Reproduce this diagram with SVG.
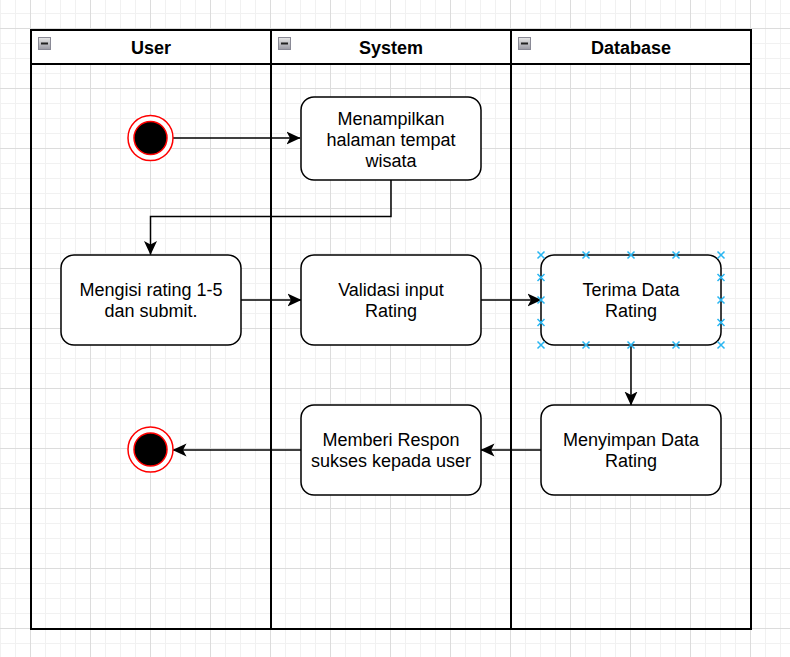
<svg xmlns="http://www.w3.org/2000/svg" width="790" height="657" viewBox="0 0 790 657">
<defs>
<pattern id="grid" x="30" y="28" width="60" height="60" patternUnits="userSpaceOnUse">
<path d="M15.5 0V60M30.5 0V60M45.5 0V60M0 15.5H60M0 30.5H60M0 45.5H60" stroke="#f1f1f1" stroke-width="1" fill="none"/>
<path d="M0.5 0V60M0 0.5H60" stroke="#dcdcdc" stroke-width="1" fill="none"/>
</pattern>
<linearGradient id="icon" x1="0" y1="0" x2="0" y2="1">
<stop offset="0" stop-color="#e8e8e8"/>
<stop offset="1" stop-color="#9a9aa4"/>
</linearGradient>
<marker id="arrow" viewBox="0 0 14 14" markerWidth="14" markerHeight="14" refX="13.5" refY="7" orient="auto" markerUnits="userSpaceOnUse">
<path d="M0,0.5 L14,7 L0,13.5 L3.5,7 Z" fill="#000"/>
</marker>
<g id="xmark">
<path d="M-3.5,-3.5 L3.5,3.5 M-3.5,3.5 L3.5,-3.5" stroke="#29b6f2" stroke-width="1.5"/>
</g>
</defs>
<style>
.lane{fill:none;stroke:#000;stroke-width:2}
.hdr{fill:#fff;stroke:#000;stroke-width:2}
.ht{font-family:"Liberation Sans",Arial,sans-serif;font-size:18px;font-weight:bold;fill:#000;text-anchor:middle}
.box{fill:#fff;stroke:#000;stroke-width:1.5}
.t{font-family:"Liberation Sans",Arial,sans-serif;font-size:18px;fill:#000;text-anchor:middle}
.e{fill:none;stroke:#000;stroke-width:1.5;marker-end:url(#arrow)}
.icon{fill:url(#icon);stroke:#8a8a96;stroke-width:1}
</style>
<rect x="0" y="0" width="790" height="657" fill="#fff"/>
<rect x="0" y="0" width="790" height="657" fill="url(#grid)"/>

<g id="pool">
<g id="lane-user">
<rect class="hdr" x="31" y="30" width="240" height="34"/>
<rect class="lane" x="31" y="64" width="240" height="565"/>
<rect class="icon" x="38.5" y="37.5" width="12" height="12"/>
<rect x="41" y="42.5" width="7" height="2" fill="#222"/>
<text class="ht" x="151" y="54">User</text>
</g>
<g id="lane-system">
<rect class="hdr" x="271" y="30" width="240" height="34"/>
<rect class="lane" x="271" y="64" width="240" height="565"/>
<rect class="icon" x="278.5" y="37.5" width="12" height="12"/>
<rect x="281" y="42.5" width="7" height="2" fill="#222"/>
<text class="ht" x="391" y="54">System</text>
</g>
<g id="lane-database">
<rect class="hdr" x="511" y="30" width="240" height="34"/>
<rect class="lane" x="511" y="64" width="240" height="565"/>
<rect class="icon" x="518.5" y="37.5" width="12" height="12"/>
<rect x="521" y="42.5" width="7" height="2" fill="#222"/>
<text class="ht" x="631" y="54">Database</text>
</g>
</g>

<g id="connectors">
<path class="e" d="M173,138 H300"/>
<path class="e" d="M391,180 V216.5 H150.5 V254.5"/>
<path class="e" d="M241,300 H301"/>
<path class="e" d="M481,300 H541"/>
<path class="e" d="M631,345 V405"/>
<path class="e" d="M541,450 H481"/>
<path class="e" d="M301,450 H173"/>
</g>

<g id="start">
<circle cx="150.5" cy="138" r="22.5" fill="#fff" stroke="#ff0000" stroke-width="1.5"/>
<circle cx="150.5" cy="138" r="16.5" fill="#000" stroke="#ff0000" stroke-width="1.5"/>
</g>

<g id="menampilkan">
<rect class="box" x="301" y="97" width="180" height="83" rx="13"/>
<text class="t" x="391" y="125">Menampilkan</text>
<text class="t" x="391" y="146">halaman tempat</text>
<text class="t" x="391" y="167">wisata</text>
</g>

<g id="mengisi">
<rect class="box" x="61" y="255" width="180" height="90" rx="13"/>
<text class="t" x="151" y="296">Mengisi rating 1-5</text>
<text class="t" x="151" y="317">dan submit.</text>
</g>

<g id="validasi">
<rect class="box" x="301" y="255" width="180" height="90" rx="13"/>
<text class="t" x="391" y="296">Validasi input</text>
<text class="t" x="391" y="317">Rating</text>
</g>

<g id="terima">
<rect class="box" x="541" y="255" width="180" height="90" rx="13"/>
<text class="t" x="631" y="296">Terima Data</text>
<text class="t" x="631" y="317">Rating</text>
<use href="#xmark" x="541" y="255"/>
<use href="#xmark" x="586" y="255"/>
<use href="#xmark" x="631" y="255"/>
<use href="#xmark" x="676" y="255"/>
<use href="#xmark" x="721" y="255"/>
<use href="#xmark" x="541" y="345"/>
<use href="#xmark" x="586" y="345"/>
<use href="#xmark" x="631" y="345"/>
<use href="#xmark" x="676" y="345"/>
<use href="#xmark" x="721" y="345"/>
<use href="#xmark" x="541" y="277.5"/>
<use href="#xmark" x="541" y="300"/>
<use href="#xmark" x="541" y="322.5"/>
<use href="#xmark" x="721" y="277.5"/>
<use href="#xmark" x="721" y="300"/>
<use href="#xmark" x="721" y="322.5"/>
</g>

<g id="menyimpan">
<rect class="box" x="541" y="405" width="180" height="90" rx="13"/>
<text class="t" x="631" y="446">Menyimpan Data</text>
<text class="t" x="631" y="467">Rating</text>
</g>

<g id="memberi">
<rect class="box" x="301" y="405" width="180" height="90" rx="13"/>
<text class="t" x="391" y="446">Memberi Respon</text>
<text class="t" x="391" y="467">sukses kepada user</text>
</g>

<g id="end">
<circle cx="150.5" cy="449.5" r="22.5" fill="#fff" stroke="#ff0000" stroke-width="1.5"/>
<circle cx="150.5" cy="449.5" r="16.5" fill="#000" stroke="#ff0000" stroke-width="1.5"/>
</g>
</svg>
